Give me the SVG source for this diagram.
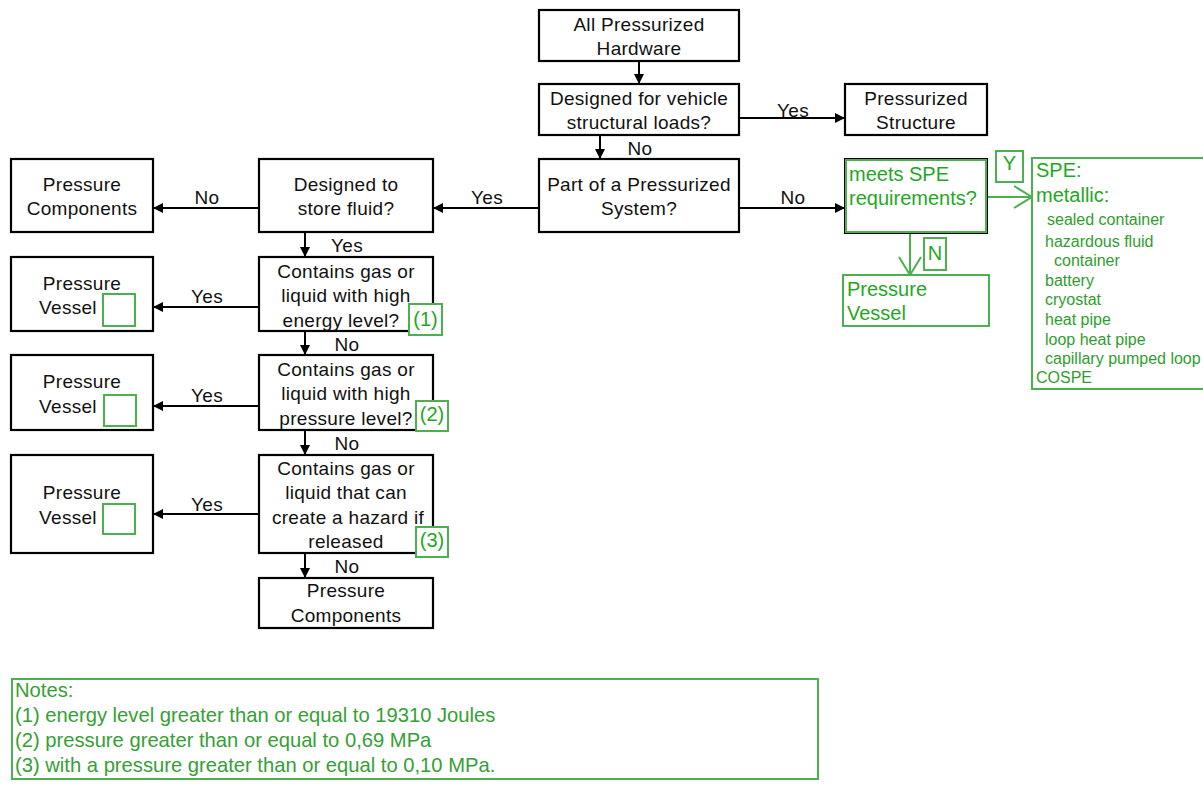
<svg xmlns="http://www.w3.org/2000/svg" width="1203" height="785" viewBox="0 0 1203 785">
  <style>
    .box { fill: #fff; stroke: #000; stroke-width: 2.2; }
    .gbox { fill: none; stroke: #4caf50; stroke-width: 2; }
    .tag { fill: #fff; stroke: #4caf50; stroke-width: 2; }
    .t { font-family: "Liberation Sans", Arial, sans-serif; font-size: 19px; letter-spacing: 0.3px; fill: #111; text-anchor: middle; dominant-baseline: central; }
    .g { font-family: "Liberation Sans", Arial, sans-serif; font-size: 20px; fill: #1fa81f; dominant-baseline: central; }
    .gs { font-family: "Liberation Sans", Arial, sans-serif; font-size: 16px; fill: #2e9e2e; dominant-baseline: central; }
    .n { font-family: "Liberation Sans", Arial, sans-serif; font-size: 20.2px; fill: #35a035; dominant-baseline: central; }
    .line { stroke: #000; stroke-width: 2; fill: none; }
    .gline { stroke: #4caf50; stroke-width: 2; fill: none; }
  </style>
  <defs>
    <marker id="arr" viewBox="0 0 10 10" refX="10" refY="5" markerWidth="10" markerHeight="10" markerUnits="userSpaceOnUse" orient="auto">
      <path d="M0,0 L10,5 L0,10 z" fill="#000"/>
    </marker>
    <marker id="open" viewBox="0 0 20 24" refX="19" refY="12" markerWidth="20" markerHeight="24" markerUnits="userSpaceOnUse" orient="auto">
      <path d="M1,1 L19,12 L1,23" fill="none" stroke="#4caf50" stroke-width="2"/>
    </marker>
  </defs>
  <rect width="1203" height="785" fill="#fff"/>

  <!-- connectors -->
  <g id="connectors">
    <line class="line" x1="639" y1="61" x2="639" y2="84" marker-end="url(#arr)"/>
    <line class="line" x1="739" y1="118" x2="845" y2="118" marker-end="url(#arr)"/>
    <text class="t" x="793" y="110">Yes</text>
    <line class="line" x1="600" y1="135" x2="600" y2="159" marker-end="url(#arr)"/>
    <text class="t" x="640" y="148">No</text>
    <line class="line" x1="739" y1="208" x2="845" y2="208" marker-end="url(#arr)"/>
    <text class="t" x="793" y="197">No</text>
    <line class="line" x1="539" y1="208" x2="433" y2="208" marker-end="url(#arr)"/>
    <text class="t" x="487" y="197">Yes</text>
    <line class="line" x1="259" y1="208" x2="153" y2="208" marker-end="url(#arr)"/>
    <text class="t" x="207" y="197">No</text>
    <line class="line" x1="305" y1="232" x2="305" y2="257" marker-end="url(#arr)"/>
    <text class="t" x="347" y="245">Yes</text>
    <line class="line" x1="259" y1="307" x2="153" y2="307" marker-end="url(#arr)"/>
    <text class="t" x="207" y="296">Yes</text>
    <line class="line" x1="305" y1="331" x2="305" y2="355" marker-end="url(#arr)"/>
    <text class="t" x="347" y="344">No</text>
    <line class="line" x1="259" y1="406" x2="153" y2="406" marker-end="url(#arr)"/>
    <text class="t" x="207" y="395">Yes</text>
    <line class="line" x1="305" y1="430" x2="305" y2="455" marker-end="url(#arr)"/>
    <text class="t" x="347" y="443">No</text>
    <line class="line" x1="259" y1="514" x2="153" y2="514" marker-end="url(#arr)"/>
    <text class="t" x="207" y="504">Yes</text>
    <line class="line" x1="305" y1="553" x2="305" y2="578" marker-end="url(#arr)"/>
    <text class="t" x="347" y="566">No</text>
    <line class="gline" x1="987" y1="197" x2="1032" y2="197" marker-end="url(#open)"/>
    <line class="gline" x1="910" y1="233" x2="910" y2="275" marker-end="url(#open)"/>
  </g>

  <g id="all-hardware">
    <rect class="box" x="539" y="10" width="200" height="51"/>
    <text class="t" x="639" y="24">All Pressurized</text>
    <text class="t" x="639" y="48">Hardware</text>
  </g>
  <g id="vehicle-loads">
    <rect class="box" x="539" y="84" width="200" height="51"/>
    <text class="t" x="639" y="98">Designed for vehicle</text>
    <text class="t" x="639" y="122">structural loads?</text>
  </g>
  <g id="pressurized-structure">
    <rect class="box" x="845" y="84" width="142" height="51"/>
    <text class="t" x="916" y="98">Pressurized</text>
    <text class="t" x="916" y="122">Structure</text>
  </g>
  <g id="pressurized-system">
    <rect class="box" x="539" y="159" width="200" height="73"/>
    <text class="t" x="639" y="184">Part of a Pressurized</text>
    <text class="t" x="639" y="208">System?</text>
  </g>
  <g id="spe-question">
    <rect x="845" y="159" width="142" height="74" fill="#fff" stroke="#000" stroke-width="2"/>
    <rect class="gbox" x="846" y="160" width="140" height="72"/>
    <text class="g" x="849" y="174">meets SPE</text>
    <text class="g" x="849" y="198">requirements?</text>
  </g>
  <g id="label-y">
    <rect class="gbox" x="996" y="151" width="27" height="31"/>
    <text class="g" x="1009.5" y="163" text-anchor="middle">Y</text>
  </g>
  <g id="label-n">
    <rect class="gbox" x="924" y="238" width="22" height="32"/>
    <text class="g" x="935" y="253" text-anchor="middle">N</text>
  </g>
  <g id="spe-vessel">
    <rect class="gbox" x="843" y="275" width="146" height="51"/>
    <text class="g" x="847" y="289">Pressure</text>
    <text class="g" x="847" y="313">Vessel</text>
  </g>
  <g id="spe-list">
    <rect class="gbox" x="1032" y="158" width="175" height="231"/>
    <text class="g" x="1036" y="170">SPE:</text>
    <text class="g" x="1036" y="195">metallic:</text>
    <text class="gs" x="1047" y="219">sealed container</text>
    <text class="gs" x="1045" y="241">hazardous fluid</text>
    <text class="gs" x="1054" y="260">container</text>
    <text class="gs" x="1045" y="280">battery</text>
    <text class="gs" x="1045" y="299">cryostat</text>
    <text class="gs" x="1045" y="319">heat pipe</text>
    <text class="gs" x="1045" y="339">loop heat pipe</text>
    <text class="gs" x="1045" y="358">capillary pumped loop</text>
    <text class="gs" x="1036" y="377">COSPE</text>
  </g>

  <g id="components-top">
    <rect class="box" x="11" y="159" width="142" height="73"/>
    <text class="t" x="82" y="184">Pressure</text>
    <text class="t" x="82" y="208">Components</text>
  </g>
  <g id="store-fluid">
    <rect class="box" x="259" y="159" width="174" height="73"/>
    <text class="t" x="346" y="184">Designed to</text>
    <text class="t" x="346" y="208">store fluid?</text>
  </g>
  <g id="high-energy">
    <rect class="box" x="259" y="257" width="174" height="74"/>
    <text class="t" x="346" y="271">Contains gas or</text>
    <text class="t" x="346" y="295">liquid with high</text>
    <text class="t" x="341" y="320">energy level?</text>
    <rect class="tag" x="409" y="304" width="33" height="31"/>
    <text class="g" x="425.5" y="319" text-anchor="middle">(1)</text>
  </g>
  <g id="vessel-1">
    <rect class="box" x="11" y="257" width="142" height="74"/>
    <text class="t" x="82" y="283">Pressure</text>
    <text class="t" x="68" y="307">Vessel</text>
    <rect class="gbox" x="103" y="294" width="32" height="32"/>
  </g>
  <g id="high-pressure">
    <rect class="box" x="259" y="355" width="174" height="75"/>
    <text class="t" x="346" y="369">Contains gas or</text>
    <text class="t" x="346" y="393">liquid with high</text>
    <text class="t" x="346" y="418">pressure level?</text>
    <rect class="tag" x="416" y="401" width="32" height="30"/>
    <text class="g" x="432" y="414" text-anchor="middle">(2)</text>
  </g>
  <g id="vessel-2">
    <rect class="box" x="11" y="355" width="142" height="75"/>
    <text class="t" x="82" y="381">Pressure</text>
    <text class="t" x="68" y="406">Vessel</text>
    <rect class="gbox" x="104" y="395" width="32" height="31"/>
  </g>
  <g id="hazard">
    <rect class="box" x="259" y="455" width="174" height="98"/>
    <text class="t" x="346" y="468">Contains gas or</text>
    <text class="t" x="346" y="492">liquid that can</text>
    <text class="t" x="348" y="517">create a hazard if</text>
    <text class="t" x="346" y="541">released</text>
    <rect class="tag" x="416" y="527" width="32" height="30"/>
    <text class="g" x="432" y="540" text-anchor="middle">(3)</text>
  </g>
  <g id="vessel-3">
    <rect class="box" x="11" y="455" width="142" height="98"/>
    <text class="t" x="82" y="492">Pressure</text>
    <text class="t" x="68" y="517">Vessel</text>
    <rect class="gbox" x="103" y="504" width="32" height="30"/>
  </g>
  <g id="components-bottom">
    <rect class="box" x="259" y="578" width="174" height="50"/>
    <text class="t" x="346" y="590">Pressure</text>
    <text class="t" x="346" y="615">Components</text>
  </g>

  <g id="notes">
    <rect class="gbox" x="12" y="679" width="806" height="100"/>
    <text class="n" x="15" y="690" fill="#1fa81f">Notes:</text>
    <text class="n" x="15" y="715">(1) energy level greater than or equal to 19310 Joules</text>
    <text class="n" x="15" y="740">(2) pressure greater than or equal to 0,69 MPa</text>
    <text class="n" x="15" y="765">(3) with a pressure greater than or equal to 0,10 MPa.</text>
  </g>
</svg>
